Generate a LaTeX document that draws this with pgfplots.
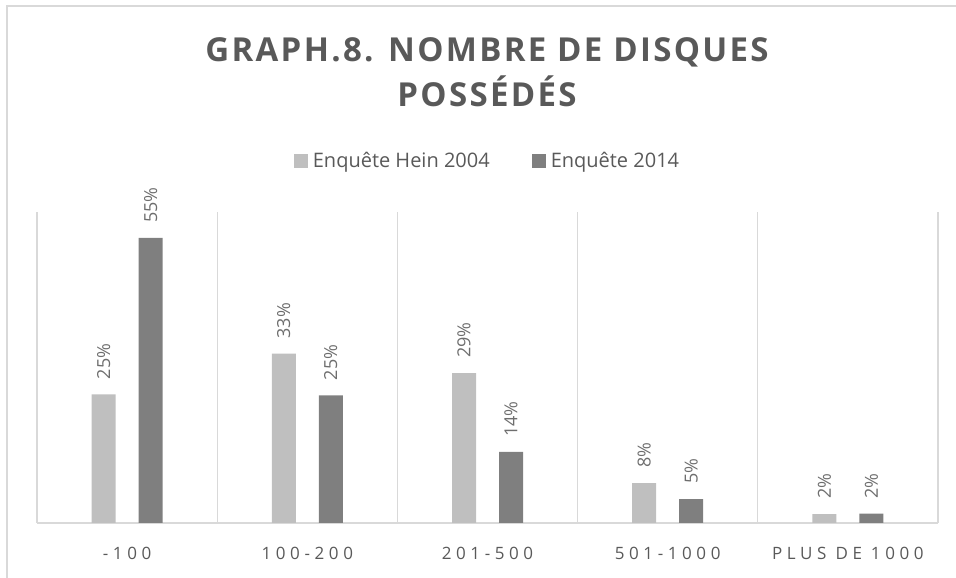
\documentclass[border=0pt]{standalone}
\usepackage{fontspec}
\setmainfont{Open Sans}
\newfontfamily\titlefont[LetterSpace=7]{Open Sans}
\newfontfamily\tickfont[LetterSpace=27]{Open Sans}
\usepackage{pgfplots}
\pgfplotsset{compat=1.18}
\definecolor{lightbar}{HTML}{BFBFBF}
\definecolor{darkbar}{HTML}{7F7F7F}
\definecolor{sepgray}{HTML}{D9D9D9}
\definecolor{txt}{HTML}{595959}
\definecolor{lab}{HTML}{6E6E6E}

\begin{document}
\begin{tikzpicture}
\begin{axis}[
  scale only axis,
  width=901pt, height=311pt,
  xmin=-0.5, xmax=4.5, ymin=0, ymax=60,
  ybar=23pt, bar width=24pt,
  axis x line*=bottom, axis y line=none,
  x axis line style={draw=sepgray, line width=1.2pt, -},
  xtick={0,1,2,3,4},
  xticklabels={-100,100-200,201-500,501-1000,PLUS DE 1000},
  xticklabel style={font=\tickfont\fontsize{17}{20}\selectfont, text=txt, yshift=-21pt},
  major tick length=0pt, minor tick length=0pt,
  minor xtick={-0.5,0.5,1.5,2.5,3.5,4.5},
  xminorgrids,
  minor grid style={draw=sepgray, line width=1.2pt},
  nodes near coords={\pgfmathprintnumber[fixed,precision=0,assume math mode=true]{\pgfplotspointmeta}\%},
  every node near coord/.append style={rotate=90, anchor=west, inner xsep=15pt,
    font=\fontsize{18}{21}\selectfont, text=lab},
  legend columns=2,
  legend style={at={(0.5,1.164)}, anchor=center, draw=none, fill=none,
    font=\fontsize{20}{24}\selectfont, text=txt,
    /tikz/every odd column/.append style={column sep=3pt},
    /tikz/every even column/.append style={column sep=40pt}},
  legend image code/.code={\fill[#1] (0pt,-7pt) rectangle (14pt,7pt);},
]
\addplot[fill=lightbar, draw=none] coordinates {(0,24.8) (1,32.7) (2,28.9) (3,7.7) (4,1.7)};
\addplot[fill=darkbar, draw=none] coordinates {(0,55) (1,24.6) (2,13.7) (3,4.6) (4,1.8)};
\legend{Enquête Hein 2004,Enquête 2014}
\coordinate (O) at (rel axis cs:0,0);
\end{axis}
\begin{scope}[shift={(O)}]
\useasboundingbox (-37pt,-55pt) rectangle (919pt,523pt);
\draw[sepgray, line width=1.5pt] (-30pt,-60pt) -- (-30pt,517pt) -- (925pt,517pt);
\node[anchor=base, font=\titlefont\bfseries\fontsize{33}{38}\selectfont, text=txt]
  at (450pt,461pt) {GRAPH.8. NOMBRE DE DISQUES};
\node[anchor=base, font=\titlefont\bfseries\fontsize{33}{38}\selectfont, text=txt]
  at (450pt,416pt) {POSSÉDÉS};
\end{scope}
\end{tikzpicture}
\end{document}
